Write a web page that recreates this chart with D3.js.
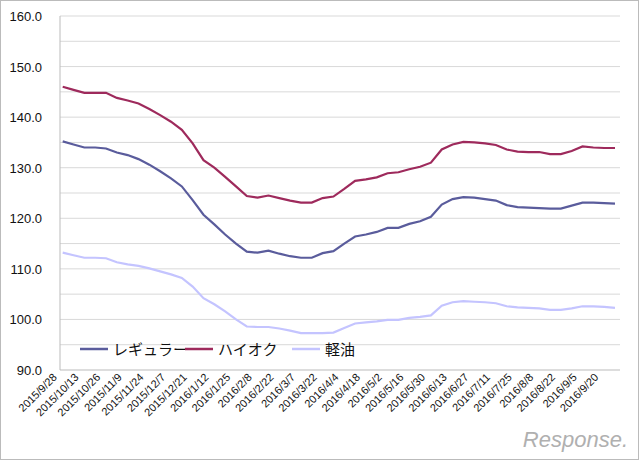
<!DOCTYPE html><html><head><meta charset="utf-8">
<script src="https://cdn.jsdelivr.net/npm/d3@7"></script>
<style>body{margin:0;background:#fff}text{font-family:"Liberation Sans",Arial,sans-serif}</style></head><body>
<script>
const dates=["2015/9/28","2015/10/13","2015/10/26","2015/11/9","2015/11/24","2015/12/7","2015/12/21","2016/1/12","2016/1/25","2016/2/8","2016/2/22","2016/3/7","2016/3/22","2016/4/4","2016/4/18","2016/5/2","2016/5/16","2016/5/30","2016/6/13","2016/6/27","2016/7/11","2016/7/25","2016/8/8","2016/8/22","2016/9/5","2016/9/20"];
const regular=[135.2,134.6,134.0,134.0,133.8,133.0,132.5,131.7,130.6,129.3,127.9,126.3,123.6,120.7,118.8,116.8,115.0,113.4,113.2,113.6,113.0,112.5,112.2,112.2,113.1,113.5,115.0,116.4,116.8,117.3,118.1,118.1,118.9,119.4,120.3,122.7,123.8,124.2,124.1,123.8,123.5,122.6,122.2,122.1,122.0,121.9,121.9,122.5,123.1,123.1,123.0,122.9];
const highOctane=[146.0,145.4,144.8,144.8,144.8,143.8,143.3,142.7,141.6,140.4,139.1,137.5,134.8,131.5,130.0,128.2,126.3,124.4,124.1,124.5,124.0,123.5,123.1,123.1,124.0,124.3,125.8,127.4,127.7,128.1,128.9,129.1,129.7,130.2,131.0,133.6,134.6,135.1,135.0,134.8,134.5,133.6,133.2,133.1,133.1,132.7,132.7,133.3,134.2,134.0,133.9,133.9];
const diesel=[113.2,112.7,112.2,112.2,112.1,111.3,110.9,110.6,110.1,109.5,108.9,108.2,106.5,104.2,103.0,101.6,100.0,98.6,98.5,98.5,98.2,97.8,97.3,97.3,97.3,97.4,98.3,99.2,99.4,99.6,99.9,99.9,100.3,100.5,100.8,102.7,103.4,103.6,103.5,103.4,103.2,102.6,102.4,102.3,102.2,101.9,101.9,102.2,102.6,102.6,102.5,102.3];
const seriesNames=["レギュラー","ハイオク","軽油"];
const colors=["#5a5c9c","#9e2a5c","#c4c4ff"];
const yTicks=[90,100,110,120,130,140,150,160];

const W=640,H=461;
const svg=d3.select("body").append("svg").attr("width",W).attr("height",H);
svg.append("rect").attr("x",0.5).attr("y",0.5).attr("width",W-2).attr("height",H-2).attr("fill","#fff").attr("stroke","#bbb");
const x=d3.scaleLinear().domain([0,51]).range([62.7,615]);
const y=d3.scaleLinear().domain([90,160]).range([370,16]);
const L=60,R=620;
d3.range(95,161,5).forEach(v=>svg.append("line").attr("x1",L).attr("x2",R).attr("y1",y(v)).attr("y2",y(v)).attr("stroke","#d9d9d9"));
svg.append("line").attr("x1",L).attr("x2",R).attr("y1",y(90)).attr("y2",y(90)).attr("stroke","#bbb");
svg.append("line").attr("x1",L).attr("x2",L).attr("y1",y(160)).attr("y2",y(90)).attr("stroke","#bbb");
yTicks.forEach(v=>svg.append("text").attr("x",42).attr("y",y(v)+5).attr("text-anchor","end").attr("font-size",13).attr("fill","#111").text(v.toFixed(1)));
dates.forEach((d,i)=>svg.append("text").attr("transform",`translate(${x(2*i)-5},${378}) rotate(-45)`).attr("text-anchor","end").attr("font-size",11).attr("fill","#111").text(d));
const line=d3.line().x((d,i)=>x(i)).y(d=>y(d));
[regular,highOctane,diesel].forEach((s,k)=>svg.append("path").attr("d",line(s)).attr("fill","none").attr("stroke",colors[k]).attr("stroke-width",2.2));
const lx=[80,185,292];
seriesNames.forEach((n,k)=>{
 svg.append("line").attr("x1",lx[k]).attr("x2",lx[k]+28).attr("y1",349).attr("y2",349).attr("stroke",colors[k]).attr("stroke-width",2.5);
 svg.append("text").attr("x",lx[k]+33).attr("y",355).attr("font-size",15).attr("fill","#111").style("font-family","'Noto Sans CJK JP'").text(n);
});
svg.append("text").attr("x",628).attr("y",447).attr("text-anchor","end").attr("font-size",22).attr("fill","#b0b0b0").attr("font-style","italic").text("Response.");
</script></body></html>
